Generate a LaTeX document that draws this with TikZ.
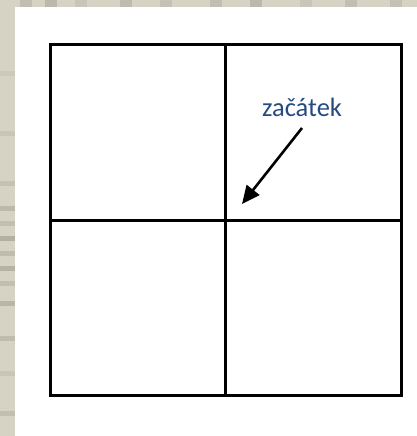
\documentclass[tikz,border=0pt]{standalone}
\usepackage{fontspec}
\setmainfont{Carlito}
\usetikzlibrary{arrows.meta}
\definecolor{bgtex}{RGB}{214,210,196}
\definecolor{labelblue}{RGB}{37,76,128}
\tikzset{
  gridline/.style={line width=3pt, black},
  pointer/.style={line width=2.6pt, black, -{Triangle[length=18pt,width=16pt]}},
  lbl/.style={text=labelblue, font=\fontsize{26.5pt}{30pt}\selectfont, inner sep=0pt}
}
\begin{document}
\begin{tikzpicture}[x=1pt,y=1pt]
\useasboundingbox (0,0) rectangle (417,436);
\fill[bgtex] (0,0) rectangle (417,436);
\foreach \yy/\cc in {20/0.3,60/0.2,95/0.35,130/0.45,150/0.3,165/0.5,180/0.35,195/0.55,210/0.3,225/0.4,250/0.25,300/0.2,360/0.15}{
  \fill[black!30!bgtex, opacity=\cc] (0,\yy) rectangle (15,\yy+5);
}
\foreach \xx/\cc in {20/0.3,45/0.4,75/0.2,120/0.35,160/0.25,210/0.3,250/0.4,300/0.2,345/0.3,390/0.25}{
  \fill[black!30!bgtex, opacity=\cc] (\xx,429) rectangle (\xx+12,436);
}
\fill[white] (15,0) rectangle (417,429);
\coordinate (tl) at (50,391);
\coordinate (br) at (401,40);
\draw[gridline] (tl) rectangle (br);
\draw[gridline] (225,391) -- (225,40);
\draw[gridline] (50,215) -- (401,215);
\node[lbl, anchor=base] (lab) at (302,319) {začátek};
\coordinate (astart) at (302,308);
\coordinate (aend) at (242,232);
\draw[pointer] (astart) -- (aend);
\end{tikzpicture}
\end{document}
